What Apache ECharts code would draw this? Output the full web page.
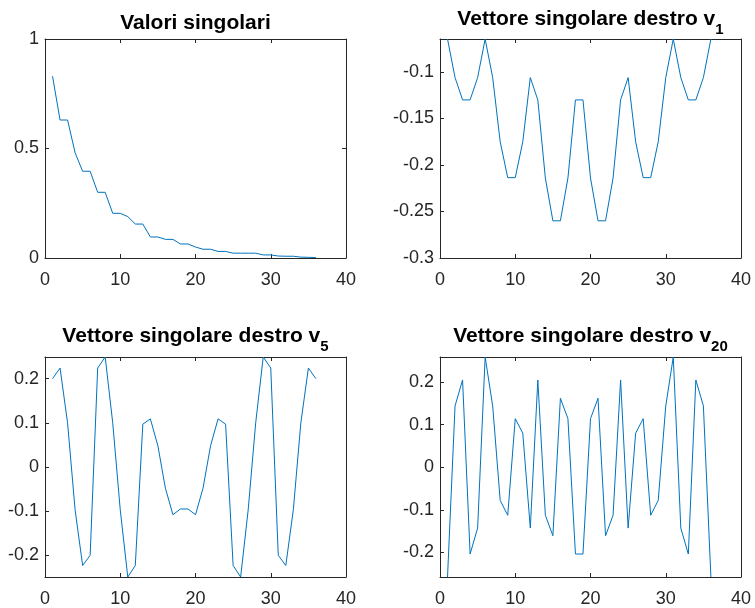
<!DOCTYPE html>
<html>
<head>
<meta charset="utf-8">
<script src="https://cdn.jsdelivr.net/npm/echarts@6/dist/echarts.min.js"></script>
<style>
  html, body { margin: 0; padding: 0; background: #fff; }
  #chart { width: 755px; height: 608px; }
</style>
</head>
<body>
<div id="chart"></div>
<script>
// ---- Data ----
const indices = [1,2,3,4,5,6,7,8,9,10,11,12,13,14,15,16,17,18,19,20,21,22,23,24,25,26,27,28,29,30,31,32,33,34,35,36];

const singularValues = [0.83, 0.63, 0.63, 0.481, 0.396, 0.396, 0.30, 0.30, 0.204, 0.204, 0.189, 0.155,
  0.155, 0.096, 0.096, 0.085, 0.085, 0.064, 0.064, 0.05, 0.04, 0.04, 0.03, 0.03,
  0.022, 0.022, 0.022, 0.022, 0.014, 0.014, 0.009, 0.008, 0.008, 0.004, 0.003, 0.002];

const v1 = [-0.0645, -0.106, -0.13, -0.13, -0.106, -0.0645,
  -0.106, -0.175, -0.2136, -0.2136, -0.175, -0.106,
  -0.13, -0.214, -0.26, -0.26, -0.214, -0.13,
  -0.13, -0.214, -0.26, -0.26, -0.214, -0.13,
  -0.106, -0.175, -0.2136, -0.2136, -0.175, -0.106,
  -0.0645, -0.106, -0.13, -0.13, -0.106, -0.0645];

const v5 = [0.2, 0.224, 0.1, -0.097, -0.223, -0.2,
  0.224, 0.249, 0.1, -0.097, -0.249, -0.223,
  0.097, 0.109, 0.048, -0.048, -0.108, -0.095,
  -0.095, -0.108, -0.048, 0.048, 0.109, 0.097,
  -0.223, -0.249, -0.097, 0.1, 0.249, 0.224,
  -0.2, -0.223, -0.097, 0.1, 0.224, 0.2];

const v20 = [-0.258, 0.144, 0.205, -0.204, -0.143, 0.259,
  0.144, -0.078, -0.113, 0.114, 0.08, -0.143,
  0.205, -0.113, -0.161, 0.162, 0.114, -0.204,
  -0.204, 0.114, 0.162, -0.161, -0.113, 0.205,
  -0.143, 0.08, 0.114, -0.113, -0.078, 0.144,
  0.259, -0.143, -0.204, 0.205, 0.144, -0.258];

const xTicks = [0, 10, 20, 30, 40];

const titles = [
  { main: 'Valori singolari', sub: '' },
  { main: 'Vettore singolare destro v', sub: '1' },
  { main: 'Vettore singolare destro v', sub: '5' },
  { main: 'Vettore singolare destro v', sub: '20' }
];
const seriesData = [singularValues, v1, v5, v20];

// ---- Layout / style ----
const FONT = 'Liberation Sans, Arial, Helvetica, sans-serif';
const AX = '#262626';
const LINE = '#0072BD';

const grids = [
  { left: 45, top: 39, width: 301, height: 219 },
  { left: 440, top: 39, width: 301, height: 219 },
  { left: 45, top: 357, width: 301, height: 220 },
  { left: 440, top: 357, width: 301, height: 220 }
];
const titlePos = [
  { x: 195.5, top: 13 },
  { x: 590.5, top: 9 },
  { x: 195.5, top: 326 },
  { x: 590.5, top: 326 }
];
const yCfg = [
  { min: 0, max: 1, interval: 0.5 },
  { min: -0.3, max: (e) => e.max, interval: 0.05 },
  { min: (e) => e.min, max: (e) => e.max, splitNumber: 5 },
  { min: (e) => e.min, max: (e) => e.max, splitNumber: 5 }
];

function fmt(v) {
  return String(Math.round(v * 1000) / 1000);
}

const xAxes = [], yAxes = [], series = [], titleOpts = [];
grids.forEach((g, i) => {
  const axLine = { show: true, onZero: false, lineStyle: { color: AX, width: 1 } };
  const tick = { show: true, inside: true, length: 4, lineStyle: { color: AX, width: 1 } };
  xAxes.push({
    gridIndex: i, type: 'value', position: 'bottom', min: 0, max: 40, interval: 10,
    axisLine: axLine, axisTick: tick, splitLine: { show: false },
    axisLabel: { color: AX, fontSize: 18, fontFamily: FONT, margin: 13,
      formatter: (v) => xTicks.indexOf(v) >= 0 ? String(v) : '' }
  });
  xAxes.push({
    gridIndex: i, type: 'value', position: 'top', min: 0, max: 40, interval: 10,
    axisLine: axLine, axisTick: tick, splitLine: { show: false }, axisLabel: { show: false }
  });
  const yc = yCfg[i];
  const yBase = {
    gridIndex: i, type: 'value', min: yc.min, max: yc.max, scale: true,
    axisLine: axLine, axisTick: tick, splitLine: { show: false }
  };
  if (yc.interval) yBase.interval = yc.interval;
  if (yc.splitNumber) yBase.splitNumber = yc.splitNumber;
  yAxes.push(Object.assign({}, yBase, {
    position: 'left',
    axisLabel: { color: AX, fontSize: 18, fontFamily: FONT, margin: 6,
      showMinLabel: i < 2, showMaxLabel: i === 0, formatter: fmt }
  }));
  yAxes.push(Object.assign({}, yBase, { position: 'right', axisLabel: { show: false } }));
  series.push({
    type: 'line', xAxisIndex: 2 * i, yAxisIndex: 2 * i,
    data: indices.map((x, k) => [x, seriesData[i][k]]),
    showSymbol: false, symbol: 'none', clip: true, animation: false,
    lineStyle: { color: LINE, width: 1 }
  });
  const t = titles[i];
  titleOpts.push({
    text: t.sub ? '{m|' + t.main + '}{s|' + t.sub + '}' : '{m|' + t.main + '}',
    left: titlePos[i].x, top: titlePos[i].top, textAlign: 'center', padding: 0,
    textStyle: {
      rich: {
        m: { fontSize: 21, fontWeight: 'bold', fontFamily: FONT, color: '#000', verticalAlign: 'top', lineHeight: 23 },
        s: { fontSize: 15, fontWeight: 'bold', fontFamily: FONT, color: '#000', verticalAlign: 'bottom', lineHeight: 28 }
      }
    }
  });
});

const chart = echarts.init(document.getElementById('chart'), null, { renderer: 'canvas' });
chart.setOption({
  animation: false,
  backgroundColor: '#fff',
  title: titleOpts,
  grid: grids.map(g => Object.assign({ containLabel: false }, g)),
  xAxis: xAxes,
  yAxis: yAxes,
  series: series
});
</script>
</body>
</html>
